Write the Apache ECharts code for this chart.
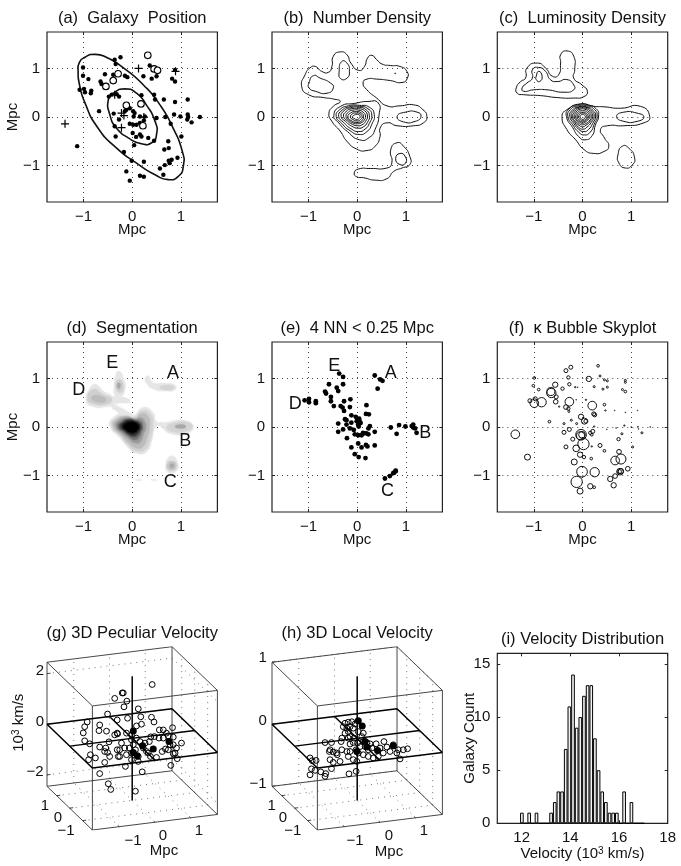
<!DOCTYPE html>
<html>
<head>
<meta charset="utf-8">
<title>Galaxy cluster panels</title>
<script src="https://cdn.jsdelivr.net/npm/echarts@6/dist/echarts.min.js"></script>
<style>
  html, body { margin: 0; padding: 0; background: #fff; }
  #main { width: 681px; height: 866px; }
</style>
</head>
<body>
<div id="main"></div>
<script>
// values, Mpc unless noted
const galaxyDots = [[-.24,1.23],[-.36,1.18],[-.34,1.09],[-1.01,1.02],[-1.01,.85],[-.90,.78],[-.56,.88],[-.65,.73],[-.63,.68],[-.39,.87],[-.15,.85],[-.10,.82],[.23,.84],[.36,1.06],[.40,.79],[.50,.84],[.47,1.01],[.88,.97],[.82,.79],[.88,.73],[-1.08,.56],[-.99,.58],[-.97,.51],[-.84,.54],[-.85,.49],[-.48,.42],[-.42,.46],[-.32,.47],[-.27,.42],[.19,.45],[.45,.46],[.47,.36],[.65,.36],[.88,.31],[1.14,.36],[-.68,.12],[-.38,.07],[-.27,-.05],[-.36,-.19],[-.15,.12],[-.12,.15],[-.05,.18],[.02,.12],[.05,.08],[.03,.01],[.16,.01],[.26,.01],[.50,-.02],[.68,0],[.86,.05],[.99,.01],[1.14,.05],[1.15,0],[1.13,-.05],[1.22,-.11],[1.39,0],[.79,-.14],[-.05,-.14],[.02,-.16],[.09,-.16],[.16,-.12],[.24,-.07],[-.34,-.40],[.01,-.33],[.16,-.36],[.08,-.41],[.19,-.40],[.33,-.43],[.45,-.49],[.74,-.50],[1.01,-.40],[.04,-.58],[.75,-.64],[.66,-.67],[-.17,-.72],[-.01,-.90],[.24,-.92],[.81,-.88],[.77,-.95],[.75,-.90],[.93,-.84],[.67,-.99],[.57,-1.06],[-.12,-1.12],[-.05,-1.31],[.16,-1.21],[.24,-1.23],[.64,-1.19],[-1.13,-.60]];
const brightGalaxies = [[.32,1.27],[.45,.99],[.52,.96],[-.29,.89],[-.39,.75],[-.54,.63],[-.12,.24],[.18,.27],[.22,-.18]];
const plusGalaxies = [[.13,1.0],[.89,.94],[-1.38,-.14],[-.36,.46],[-.22,.08],[-.17,.03],[-.22,-.22],[.24,0]];
const outerEllipse = [[-1.09,1.11],[-.97,1.23],[-.77,1.29],[-.53,1.23],[-.18,1.01],[.23,.66],[.57,.25],[.84,-.23],[1.03,-.71],[1.05,-1.01],[.95,-1.22],[.74,-1.29],[.47,-1.19],[.09,-.95],[-.32,-.64],[-.70,-.23],[-.97,.29],[-1.09,.70],[-1.11,.94]];
const innerEllipse = [[-.49,.36],[-.39,.49],[-.15,.58],[.09,.49],[.29,.25],[.47,-.09],[.50,-.36],[.40,-.53],[.19,-.55],[-.08,-.43],[-.32,-.23],[-.46,.05]];

// (b) number density contours
const numberContours = [
  [[-1.14,.63],[-1.07,.87],[-.97,1.01],[-.86,1.04],[-.73,.94],[-.59,.92],[-.52,1.04],[-.49,1.25],[-.35,1.34],[-.21,1.28],[-.13,1.11],[.03,.96],[.15,1.04],[.21,1.21],[.30,1.27],[.40,1.18],[.51,1.09],[.68,1.06],[.88,1.04],[1.02,.94],[1.03,.80],[.92,.71],[.68,.75],[.40,.78],[.20,.78],[.12,.70],[.20,.56],[.40,.39],[.61,.23],[.88,.23],[1.16,.25],[1.35,.15],[1.43,.01],[1.36,-.12],[1.16,-.18],[.82,-.18],[.61,-.12],[.47,-.23],[.47,-.40],[.37,-.60],[.20,-.69],[-.01,-.66],[-.21,-.50],[-.35,-.29],[-.52,-.09],[-.58,.08],[-.49,.22],[-.35,.32],[-.49,.37],[-.69,.40],[-1.0,.46]],
  [[-.99,.70],[-.90,.85],[-.76,.80],[-.55,.70],[-.49,.60],[-.62,.49],[-.86,.53],[-.99,.60]],
  [[-.37,.94],[-.32,1.14],[-.21,1.11],[-.16,.94],[-.21,.80],[-.34,.79]],
  [[.82,.01],[.99,.10],[1.23,.10],[1.31,.01],[1.19,-.09],[.95,-.10]],
  [[-.06,-1.15],[.03,-1.07],[.27,-1.06],[.61,-1.05],[.71,-.95],[.69,-.67],[.82,-.53],[.95,-.60],[1.08,-.81],[1.08,-.98],[.92,-1.05],[.75,-1.12],[.61,-1.27],[.37,-1.30],[.13,-1.25],[-.01,-1.23]],
  [[.79,-.86],[.88,-.75],[.99,-.82],[.99,-.95],[.88,-.98]],
  [[.77,.90],[.79,.90],[.78,.89]],
  [[-.48,.03],[-.34,.22],[-.05,.28],[.22,.32],[.43,.29],[.45,.05],[.37,-.25],[.25,-.42],[.05,-.47],[-.2,-.30],[-.38,-.12]],
  [[-.43,.01],[-.36,.15],[-.18,.23],[.05,.24],[.25,.2],[.35,.05],[.3,-.15],[.2,-.3],[.04,-.36],[-.15,-.28],[-.32,-.13]],
  [[-.38,.01],[-.31,.14],[-.15,.21],[.05,.22],[.22,.17],[.30,.04],[.25,-.13],[.16,-.25],[.03,-.30],[-.13,-.24],[-.28,-.11]],
  [[-.33,.01],[-.27,.13],[-.13,.19],[.04,.2],[.18,.15],[.25,.03],[.21,-.11],[.13,-.2],[.02,-.23],[-.11,-.19],[-.24,-.09]],
  [[-.28,.01],[-.23,.11],[-.11,.17],[.03,.17],[.15,.13],[.21,.02],[.17,-.09],[.1,-.16],[.01,-.18],[-.1,-.15],[-.2,-.08]],
  [[-.23,.01],[-.18,.1],[-.09,.14],[.03,.14],[.12,.1],[.17,.02],[.14,-.07],[.08,-.12],[0,-.14],[-.09,-.12],[-.17,-.07]],
  [[-.19,0],[-.14,.08],[-.02,.11],[.09,.08],[.13,.01],[.1,-.07],[0,-.11],[-.13,-.07]],
  [[-.14,0],[-.09,.07],[-.02,.08],[.05,.07],[.10,.01],[.07,-.05],[0,-.08],[-.09,-.05]],
  [[-.10,0],[-.06,.04],[-.02,.05],[.03,.05],[.06,.01],[.04,-.03],[-.01,-.05],[-.06,-.03]]
];

// (c) luminosity density contours
const luminosityContours = [
  [[-1.36,.60],[-1.27,.73],[-1.17,.80],[-1.14,1.01],[-.93,1.11],[-.76,1.01],[-.62,.84],[-.49,.87],[-.45,1.11],[-.45,1.28],[-.32,1.36],[-.18,1.25],[-.16,.97],[-.18,.80],[-.01,.66],[.10,.53],[.03,.42],[-.18,.39],[-.52,.40],[-.86,.44],[-1.21,.46],[-1.34,.49]],
  [[-1.24,.60],[-1.14,.70],[-1.03,.80],[-1.03,.97],[-.90,1.02],[-.76,.94],[-.66,.77],[-.52,.73],[-.32,.77],[-.18,.66],[-.18,.56],[-.38,.51],[-.73,.56],[-1.0,.56],[-1.21,.53]],
  [[-.95,.84],[-.90,.94],[-.83,.84],[-.88,.73],[-.95,.77]],
  [[-.42,.01],[-.32,.15],[-.04,.27],[.23,.22],[.44,.21],[.78,.18],[1.19,.22],[1.38,.01],[1.26,-.12],[.85,-.18],[.51,-.18],[.37,-.26],[.45,-.43],[.54,-.60],[.44,-.71],[.23,-.75],[.03,-.67],[-.14,-.47],[-.32,-.26]],
  [[.70,.01],[.85,.10],[1.12,.08],[1.26,0],[1.12,-.09],[.85,-.09]],
  [[.73,-.77],[.82,-.60],[.95,-.64],[1.07,-.84],[1.02,-.99],[.88,-1.05],[.75,-.95]],
  [[-.33,.01],[-.28,.16],[-.1,.25],[.1,.25],[.28,.17],[.33,.02],[.26,-.18],[.2,-.38],[.05,-.47],[-.08,-.4],[-.2,-.22]],
  [[-.30,.01],[-.25,.15],[-.09,.23],[.09,.23],[.25,.15],[.30,.02],[.24,-.15],[.16,-.31],[.04,-.37],[-.08,-.31],[-.2,-.16]],
  [[-.26,.01],[-.22,.13],[-.08,.21],[.08,.21],[.22,.13],[.27,.02],[.21,-.13],[.12,-.26],[.03,-.30],[-.08,-.25],[-.18,-.13]],
  [[-.23,.01],[-.19,.12],[-.07,.2],[.07,.2],[.19,.12],[.24,.01],[.18,-.11],[.09,-.21],[.01,-.25],[-.08,-.21],[-.16,-.11]],
  [[-.2,0],[-.16,.11],[-.06,.18],[.06,.18],[.16,.11],[.21,.01],[.15,-.1],[.07,-.17],[0,-.2],[-.07,-.17],[-.14,-.1]],
  [[-.17,0],[-.13,.1],[-.05,.16],[.05,.16],[.13,.1],[.18,.01],[.13,-.09],[.06,-.14],[0,-.16],[-.06,-.14],[-.12,-.08]],
  [[-.14,0],[-.1,.09],[-.04,.13],[.04,.13],[.1,.09],[.15,.01],[.1,-.07],[.05,-.11],[0,-.13],[-.05,-.11],[-.1,-.07]],
  [[-.11,0],[-.08,.07],[0,.1],[.08,.07],[.12,0],[.08,-.06],[0,-.1],[-.08,-.06]],
  [[-.08,0],[-.05,.06],[0,.08],[.06,.06],[.09,0],[.06,-.05],[0,-.07],[-.05,-.05]],
  [[-.05,0],[-.03,.04],[0,.05],[.04,.04],[.06,0],[.04,-.03],[0,-.05],[-.03,-.03]]
];

// (d) segmentation image, light to dark
const segmentShades = ['#e6e6e6','#e6e6e6','#e6e6e6','#e6e6e6','#e6e6e6','#e6e6e6','#e6e6e6','#eeeeee','#eeeeee','#d0d0d0','#bcbcbc','#d0d0d0','#a8a8a8','#d4d4d4','#c8c8c8','#aaaaaa','#d4d4d4','#a8a8a8','#d4d4d4','#bcbcbc','#9c9c9c','#747474','#484848','#282828','#101010','#000000','#000000'];
const segmentPatches = [
  [[-.46,.02],[-.39,.19],[-.18,.26],[.02,.23],[.23,.40],[.43,.29],[.49,.12],[.64,.09],[.77,.11],[1.05,.14],[1.25,.02],[1.12,-.13],[.77,-.13],[.57,.02],[.47,-.01],[.40,-.29],[.29,-.51],[.09,-.54],[-.08,-.42],[-.25,-.22]],
  [[-.39,.47],[-.25,.40],[-.12,.33],[.02,.23],[-.18,.19],[-.32,.33],[-.42,.40]],
  [[-.40,.62],[-.08,.58],[-.05,.51],[-.22,.50],[-.36,.50]],
  [[-.95,.57],[-.88,.77],[-.84,.84],[-.77,.88],[-.68,.83],[-.60,.74],[-.40,.62],[-.36,.50],[-.53,.42],[-.84,.43]],
  [[-.37,.81],[-.34,1.05],[-.27,1.15],[-.17,.98],[-.15,.77],[-.25,.62],[-.36,.67]],
  [[.27,1.01],[.33,1.05],[.43,.91],[.64,.90],[.88,.86],[.88,.77],[.71,.74],[.43,.79],[.29,.91]],
  [[.69,-.80],[.74,-.64],[.84,-.60],[.93,-.73],[.93,-.87],[.81,-.95],[.71,-.90]],
  [[.06,-1.08],[.13,-1.07],[.21,-1.09],[.13,-1.11]],
  [[.38,-1.08],[.45,-1.07],[.51,-1.09],[.45,-1.11]],
  [[-.92,.58],[-.80,.77],[-.60,.67],[-.42,.57],[-.53,.47],[-.80,.48]],
  [[-.84,.60],[-.70,.65],[-.54,.55],[-.70,.51]],
  [[-.34,.84],[-.27,.98],[-.18,.84],[-.25,.71]],
  [[-.31,.86],[-.27,.91],[-.24,.86],[-.27,.79]],
  [[.57,.82],[.77,.86],[.86,.81],[.71,.76]],
  [[.71,-.80],[.81,-.70],[.91,-.80],[.81,-.90]],
  [[.77,-.80],[.82,-.75],[.86,-.80],[.82,-.85]],
  [[.71,.01],[.91,.09],[1.15,.09],[1.24,.01],[1.12,-.08],[.84,-.10]],
  [[.88,.01],[1.01,.05],[1.10,.01],[1.01,-.03]],
  [[-.42,.02],[-.34,.18],[-.15,.23],[.04,.20],[.22,.34],[.39,.25],[.43,.08],[.37,-.25],[.26,-.47],[.09,-.50],[-.08,-.38],[-.24,-.19]],
  [[-.39,.02],[-.31,.16],[-.12,.22],[.06,.18],[.2,.28],[.33,.2],[.36,.04],[.31,-.2],[.22,-.4],[.08,-.43],[-.07,-.33],[-.22,-.17]],
  [[-.34,.02],[-.27,.14],[-.1,.19],[.06,.16],[.17,.19],[.25,.12],[.28,0],[.23,-.15],[.16,-.31],[.06,-.33],[-.06,-.25],[-.2,-.14]],
  [[-.3,.01],[-.22,.12],[-.08,.17],[.06,.14],[.16,.13],[.22,.03],[.19,-.11],[.12,-.23],[.04,-.26],[-.06,-.2],[-.18,-.11]],
  [[-.26,.01],[-.18,.11],[-.07,.15],[.05,.13],[.14,.09],[.19,.01],[.16,-.09],[.09,-.18],[.02,-.2],[-.07,-.16],[-.16,-.09]],
  [[-.22,.01],[-.15,.1],[-.05,.13],[.05,.11],[.13,.07],[.16,0],[.13,-.07],[.07,-.14],[.01,-.16],[-.07,-.13],[-.14,-.07]],
  [[-.19,.01],[-.12,.09],[-.04,.11],[.05,.09],[.11,.06],[.14,0],[.11,-.06],[.05,-.11],[0,-.13],[-.07,-.1],[-.13,-.06]],
  [[-.16,0],[-.1,.07],[-.02,.09],[.05,.08],[.1,.04],[.12,-.01],[.09,-.06],[.03,-.1],[-.04,-.1],[-.11,-.06]],
  [[-.13,0],[-.08,.06],[-.01,.08],[.06,.05],[.09,-.01],[.06,-.06],[0,-.08],[-.08,-.06]]
];
const segmentLetters = [[-.41,1.32,'E'],[.84,1.11,'A'],[-1.10,.77,'D'],[1.09,-.29,'B'],[.78,-1.14,'C']];

// (e) galaxies with 4 neighbours inside 0.25 Mpc
const nearNeighbours = [[-.37,1.10],[-.29,1.03],[.36,1.06],[.47,.98],[.52,.95],[-.29,.88],[-.58,.88],[-.42,.81],[-.39,.74],[.42,.79],[-.66,.73],[-.64,.69],[-.54,.62],[-.54,.53],[-.14,.57],[-.27,.53],[-1.08,.55],[-.99,.58],[-.99,.51],[-.85,.53],[-.85,.49],[-.48,.43],[-.34,.43],[-.30,.40],[-.27,.33],[-.15,.41],[.19,.45],[.18,.27],[.24,.26],[-.12,.24],[-.03,.21],[.04,.17],[-.25,.16],[-.22,.14],[.05,.12],[-.01,.12],[.07,.08],[.02,.05],[.03,.01],[-.12,.09],[-.22,.05],[-.39,.07],[-.29,-.05],[-.39,-.10],[-.15,-.03],[-.07,-.06],[.26,.02],[.23,-.03],[.36,-.10],[-.21,-.23],[-.05,-.15],[.02,-.17],[.09,-.17],[.12,-.12],[.19,-.13],[.23,-.15],[.14,-.13],[-.12,-.42],[.02,-.34],[.09,-.42],[.18,-.37],[.21,-.40],[.36,-.38],[-.05,-.56],[.03,-.62],[.17,-.64],[.69,-.01],[.86,.04],[.81,-.14],[.99,.01],[1.12,.02],[1.15,.05],[1.15,-.01],[1.19,-.03],[1.22,-.12],[.57,-1.06],[.67,-1.01],[.74,-.95],[.79,-.91],[.76,-.94],[.79,-.90]];
const nearLetters = [[-.47,1.25,'E'],[.69,1.12,'A'],[-1.27,.48,'D'],[1.40,-.13,'B'],[.62,-1.32,'C']];

// (f) x, y, kappa
const kappaBubbles = [[.32,1.26,.4],[-.24,1.23,.6],[-.34,1.16,.6],[-.29,1.02,.5],[-.99,1.01,.4],[.13,.99,.8],[.36,1.05,.3],[.45,.97,.3],[.51,.95,.3],[.88,.96,.3],[.88,.92,.3],[-.56,.87,.8],[-.27,.88,.5],[-1.01,.85,.4],[-.90,.77,.4],[-.41,.79,.5],[-.15,.82,.2],[-.10,.82,.1],[.24,.83,.3],[.42,.78,.3],[.51,.82,.3],[.82,.77,.3],[.88,.73,.4],[-.64,.70,1.4],[-.65,.73,1.2],[-1.08,.54,.6],[-.97,.58,.6],[-.99,.49,1.3],[-.84,.51,1.4],[-.54,.62,.6],[-.55,.52,.7],[-.27,.52,1.3],[-.34,.41,.7],[-.29,.38,.5],[-.28,.32,.3],[.20,.44,1.3],[.45,.46,.4],[.47,.34,.2],[.23,.27,.6],[.25,.25,.6],[-.68,.11,.4],[-.03,.21,.8],[.04,.12,.9],[.07,.12,.6],[-.23,.14,.3],[-.38,.07,.3],[-.12,.07,.3],[-.27,-.05,.6],[-.38,-.11,.6],[-.03,-.16,1.6],[-.04,-.18,1.2],[-.01,-.16,1.0],[-.20,-.25,.6],[.02,-.35,1.7],[-.34,-.41,.6],[-.13,-.44,1.0],[.36,-.38,.6],[.45,-.49,.4],[.74,-.25,.5],[.81,-.14,.3],[1.03,-.41,.3],[1.22,-.12,.3],[1.14,.01,.1],[1.15,-.04,.1],[.86,.03,.2],[.75,-.51,.7],[.67,-.69,1.3],[.79,-.66,1.5],[-.17,-.72,.9],[-.05,-.57,.8],[.03,-.62,.5],[.18,-.65,.4],[.93,-.86,.7],[.77,-.92,1.0],[.76,-.92,.6],[.79,-.91,.8],[.67,-1.01,.7],[.57,-1.07,.8],[.64,-1.20,.8],[-.01,-.92,1.6],[.25,-.93,1.4],[-.12,-1.13,1.7],[.16,-1.22,.8],[.24,-1.24,.4],[-.05,-1.32,.9],[-1.13,-.62,.9],[-1.38,-.15,1.3],[-.13,.56,.1],[.07,.56,.2],[.21,-.09,.6],[.24,.01,.2],[.16,-.12,.5],[.19,-.16,.4],[.50,-.05,.1],[.69,-.02,.1],[1.0,0,.1],[1.39,0,.1],[1.13,.34,.1],[.88,.30,.1],[.66,.34,.1],[-.48,.42,.2],[.19,-.40,.2]];

// (g), (h) galaxies as they sit on the projected plane of the box
const peculiarProjected = [[.56,2.17],[-.28,1.83],[-.25,1.83],[-.49,1.61],[-.15,1.50],[-.23,1.27],[.17,1.19],[-.69,.98],[-.42,.74],[-.13,.81],[.24,.87],[.54,.85],[.61,.66],[-1.26,.66],[-.91,.54],[-1.33,.47],[-1.37,.22],[-.72,.29],[-.93,.31],[-.42,.21],[-.41,.18],[.26,.57],[.12,.50],[.76,.34],[.87,.34],[1.13,.43],[.96,.21],[1.01,.10],[.62,.07],[.52,.06],[.75,.01],[1.15,.05],[1.38,-.19],[-1.33,-.10],[-1.19,-.22],[-.65,-.14],[-.91,-.35],[-.74,-.39],[-.77,-.53],[-.69,-.57],[-1.17,-.66],[-1.03,-.79],[-1.22,-.86],[-.63,-.73],[-.35,-.46],[-.39,-.73],[-.21,-.39],[-.16,-.66],[-.02,-.86],[.17,-.93],[-.19,-1.13],[-.77,-.97],[-.91,-1.42],[.28,-1.35],[1.08,-1.09],[1.26,-.82],[1.15,-.62],[1.01,-.46],[.84,-.53],[.93,-.43],[.68,-.77],[.40,-.53],[.51,-.73],[-.67,-1.83],[-.60,-2.06],[.09,-2.13],[-.02,.14],[-.02,-.06],[.03,-.26],[.12,.01],[.22,-.13],[.36,-.19],[.48,-.13],[.31,-.39],[.45,-.59],[.17,-.73],[-.02,-.59],[-.08,-.39],[.09,-.46],[-.35,-.73],[-.42,-.46],[-.49,.14],[1.15,-.26],[1.24,-.39],[1.06,-.26],[1.20,-.59],[.87,.01],[-.16,.21],[-.30,-.19]];
const peculiarCrowded = [[.03,.30],[.03,-.57],[.14,-.70],[.29,-.30],[.59,-.43],[1.03,-.13]];
const localProjected = [[-.34,.61],[-.25,.65],[-.15,.67],[-.06,.58],[-.39,.47],[-.29,.41],[-.20,.47],[-.11,.41],[-.34,.21],[-.25,.27],[-.20,.07],[-.09,.01],[-.43,.01],[-.25,.01],[-.90,-.17],[-.72,-.17],[-.45,-.13],[-.76,-.46],[-.67,-.55],[-.78,-.53],[-.58,-.59],[-.43,-.46],[-.29,-.53],[-.20,-.53],[-.76,-.86],[-.67,-.97],[-.48,-.93],[-.56,-.66],[-.25,-.73],[-.11,-.86],[.03,-.59],[-.03,-.46],[.08,-.33],[.17,-.13],[.27,-.17],[.22,-.33],[.36,-.22],[.53,-.22],[.75,-.13],[.64,-.39],[.83,-.35],[1.01,-.26],[1.15,-.46],[1.29,-.46],[1.41,-.42],[1.11,-.59],[1.20,-.83],[.92,-.53],[.73,-.59],[.59,-.73],[.45,-.79],[.31,-.73],[.17,-.66],[-.01,-.93],[-.03,-1.33],[-.23,-1.43],[-1.32,-.79],[-1.26,-.90],[-1.15,-.89],[-1.28,-1.23],[-1.32,-1.47],[-1.18,-1.29],[-1.02,-1.35],[-.90,-1.53],[-.88,-1.42],[-.72,-1.22],[.31,-.46],[.41,-.39],[-.11,-.17],[-.20,-.23],[.01,-.19],[.13,.07],[.17,.21],[.03,.27]];
const localCrowded = [[.03,.71],[.14,.50],[.27,-.35],[.57,-.49],[1.01,-.30],[.22,-.13],[-.01,-.53]];

// (i) histogram, 10^3 km/s
const velocityBins = [12.01,12.16,12.31,12.46,12.61,12.76,12.91,13.06,13.21,13.36,13.51,13.66,13.81,13.96,14.11,14.26,14.41,14.56,14.71,14.86,15.01,15.16,15.31,15.46,15.61,15.76,15.91,16.06,16.21,16.36,16.51,16.66,16.81,16.96];
const velocityCounts = [1,0,1,0,1,0,0,0,1,2,3,3,7,11,14,9,10,12,13,13,8,5,3,2,1,1,1,0,3,0,2,0,0,0];

const skyTicks = [-1, 0, 1];
const velocityTicks = [12, 14, 16, 18];
const countTicks = [0, 5, 10, 15];
const skyRange = 1.75;

const FONT = '"Liberation Sans", Arial, Helvetica, sans-serif';
const cols = [47, 272, 497.3];
const PANEL_W = 170.4;

const minus = v => (v < 0 ? '\u2212' + (-v) : String(v));

const grids = [];
const xAxes = [];
const yAxes = [];
const mirrorX = [];
const mirrorY = [];
const series = [];
const titles = [];

const titleOf = (text, cx, top) => ({
  text, left: cx, top, padding: 0, textAlign: 'center',
  textStyle: { fontFamily: FONT, fontSize: 16.5, fontWeight: 'normal', color: '#111' }
});

const baseAxis = (gridIndex, min, max, ticks, dotted) => ({
  type: 'value',
  gridIndex,
  min,
  max,
  axisLine: { show: false, onZero: false },
  axisTick: { show: true, inside: true, length: 3, customValues: ticks, lineStyle: { color: '#222' } },
  axisLabel: { show: true, customValues: ticks, formatter: minus, fontFamily: FONT, fontSize: 15, color: '#111', margin: 7 },
  splitLine: { show: dotted, lineStyle: { color: '#444', width: 1, type: [1, 4] } }
});

// ticks on the top and right of the frame
const mirrorOf = (gridIndex, min, max, ticks, position) => ({
  type: 'value', gridIndex, min, max, position,
  axisLine: { show: false, onZero: false },
  axisTick: { show: true, inside: true, length: 3, customValues: ticks, lineStyle: { color: '#222' } },
  axisLabel: { show: false },
  splitLine: { show: false }
});

function addSkyPanel(index, left, top, title, showY) {
  grids.push({ left, top, width: PANEL_W, height: 170, show: true, borderColor: '#222', borderWidth: 1.2, backgroundColor: 'transparent' });
  xAxes.push(Object.assign(baseAxis(index, -skyRange, skyRange, skyTicks, true), {
    name: 'Mpc', nameLocation: 'middle', nameGap: 20, nameMoveOverlap: false,
    nameTextStyle: { fontFamily: FONT, fontSize: 15, color: '#111' }
  }));
  yAxes.push(Object.assign(baseAxis(index, -skyRange, skyRange, skyTicks, true), showY ? {
    name: 'Mpc', nameLocation: 'middle', nameGap: 27, nameMoveOverlap: false,
    nameTextStyle: { fontFamily: FONT, fontSize: 15, color: '#111' }
  } : {}));
  mirrorX.push(mirrorOf(index, -skyRange, skyRange, skyTicks, 'top'));
  mirrorY.push(mirrorOf(index, -skyRange, skyRange, skyTicks, 'right'));
  titles.push(titleOf(title, left + PANEL_W / 2, top - 22));
}

addSkyPanel(0, cols[0], 32, '(a)  Galaxy  Position', true);
addSkyPanel(1, cols[1], 32, '(b)  Number Density', false);
addSkyPanel(2, cols[2], 32, '(c)  Luminosity Density', false);
addSkyPanel(3, cols[0], 342, '(d)  Segmentation', true);
addSkyPanel(4, cols[1], 342, '(e)  4 NN < 0.25 Mpc', false);
addSkyPanel(5, cols[2], 342, '(f)  \u03ba Bubble Skyplot', false);

const scatterOn = (g, data, extra) => Object.assign({
  type: 'scatter', xAxisIndex: g, yAxisIndex: g, data, silent: true, animation: false
}, extra);

// closed smooth curves, fill or stroke decided by styleOf
const patchSeries = (g, list, styleOf) => ({
  type: 'custom', xAxisIndex: g, yAxisIndex: g, silent: true, animation: false, clip: true,
  data: list.map((pts, i) => [pts[0][0], pts[0][1], i]),
  encode: { x: 0, y: 1 },
  renderItem: (params, api) => {
    const i = api.value(2);
    return { type: 'polygon', shape: { points: list[i].map(p => api.coord(p)), smooth: 0.6 }, style: styleOf(i) };
  }
});
const strokeStyle = w => () => ({ fill: 'none', stroke: '#111', lineWidth: w });

const letterSeries = (g, data) => scatterOn(g, data, {
  symbolSize: 1, itemStyle: { color: 'transparent', opacity: 1 },
  label: { show: true, position: 'inside', formatter: p => p.data[2], fontFamily: FONT, fontSize: 18, color: '#111' }
});

// (a)
series.push(patchSeries(0, [outerEllipse, innerEllipse], strokeStyle(1.6)));
series.push(scatterOn(0, galaxyDots, { symbolSize: 4.4, itemStyle: { color: '#000', opacity: 1 } }));
series.push(scatterOn(0, plusGalaxies, { symbol: 'path://M5 0V10M0 5H10', symbolSize: 8,
  itemStyle: { color: 'transparent', borderColor: '#000', borderWidth: 1.2, opacity: 1 } }));
series.push(scatterOn(0, brightGalaxies, { symbolSize: 6.6,
  itemStyle: { color: '#fff', borderColor: '#000', borderWidth: 1.1, opacity: 1 } }));

// (b), (c)
series.push(patchSeries(1, numberContours, strokeStyle(1)));
series.push(patchSeries(2, luminosityContours, strokeStyle(1)));

// (d)
series.push(patchSeries(3, segmentPatches, i => ({ fill: segmentShades[i], stroke: null, shadowBlur: 2, shadowColor: segmentShades[i] })));
series.push(letterSeries(3, segmentLetters));

// (e)
series.push(scatterOn(4, nearNeighbours, { symbolSize: 4.8, itemStyle: { color: '#000', opacity: 1 } }));
series.push(letterSeries(4, nearLetters));

// (f)
series.push(scatterOn(5, kappaBubbles, {
  symbolSize: v => v[2] * 6.67,
  itemStyle: { color: 'transparent', borderColor: '#111', borderWidth: 1, opacity: 1 }
}));

// (g), (h) box with a linear view: x to the right, y back to the left, z up
const BOX = 1.75;
const project = (x, y, z, zMax) => [x - 0.363 * y, 2.5 * z / zMax + 0.179 * x + 0.503 * y];
const uMax = BOX * 1.363;
const vMax = 2.5 + BOX * 0.682;

function addBoxPanel(index, left, top, title, zMax, zTicks, points, crowded) {
  const P = (x, y, z) => project(x, y, z, zMax);
  const segs = list => {
    const out = [];
    list.forEach(s => out.push(P(...s[0]), P(...s[1]), ['-', '-']));
    return out;
  };
  const lineOn = (list, style) => series.push({
    type: 'line', xAxisIndex: index, yAxisIndex: index, data: segs(list), showSymbol: false,
    silent: true, connectNulls: false, lineStyle: style, z: 2
  });
  const B = BOX;
  const Z = zMax;
  grids.push({ left, top, width: PANEL_W, height: 183.3, show: false });
  xAxes.push({ type: 'value', gridIndex: index, min: -uMax, max: uMax, show: false });
  yAxes.push({ type: 'value', gridIndex: index, min: -vMax, max: vMax, show: false });
  titles.push(titleOf(title, left + PANEL_W / 2, top - 22));

  const dotted = [];
  skyTicks.forEach(t => {
    dotted.push([[t, -B, -Z], [t, B, -Z]], [[t, B, -Z], [t, B, Z]]);
    dotted.push([[-B, t, -Z], [B, t, -Z]], [[B, t, -Z], [B, t, Z]]);
  });
  zTicks.forEach(t => dotted.push([[-B, B, t], [B, B, t]], [[B, B, t], [B, -B, t]]));
  lineOn(dotted, { color: '#777', width: 1, type: [1, 5] });

  const edges = [
    [[-B, -B, Z], [B, -B, Z]], [[B, -B, Z], [B, B, Z]], [[B, B, Z], [-B, B, Z]], [[-B, B, Z], [-B, -B, Z]],
    [[-B, -B, -Z], [B, -B, -Z]], [[B, -B, -Z], [B, B, -Z]], [[B, B, -Z], [-B, B, -Z]], [[-B, B, -Z], [-B, -B, -Z]],
    [[-B, -B, -Z], [-B, -B, Z]], [[B, -B, -Z], [B, -B, Z]], [[B, B, -Z], [B, B, Z]], [[-B, B, -Z], [-B, B, Z]]
  ];
  skyTicks.forEach(t => {
    edges.push([[t, -B, -Z], [t, -B + 0.1, -Z]], [[-B, t, -Z], [-B + 0.1, t, -Z]]);
  });
  zTicks.forEach(t => edges.push([[-B, B, t], [-B + 0.1, B, t]]));
  lineOn(edges, { color: '#333', width: 0.9 });

  lineOn([
    [[-B, -B, 0], [B, -B, 0]], [[B, -B, 0], [B, B, 0]], [[B, B, 0], [-B, B, 0]], [[-B, B, 0], [-B, -B, 0]],
    [[-B, 0, 0], [B, 0, 0]], [[0, -B, 0], [0, B, 0]], [[0, 0, -Z], [0, 0, Z]]
  ], { color: '#000', width: 1.5 });

  series.push(scatterOn(index, points, { symbolSize: 5.8, z: 3,
    itemStyle: { color: 'transparent', borderColor: '#000', borderWidth: 1, opacity: 1 } }));
  series.push(scatterOn(index, crowded, { symbolSize: 7, z: 3, itemStyle: { color: '#000', opacity: 1 } }));
}

addBoxPanel(6, cols[0], 646.7, '(g) 3D Peculiar Velocity', 2.45, [-2, 0, 2], peculiarProjected, peculiarCrowded);
addBoxPanel(7, cols[1], 646.7, '(h) 3D Local Velocity', 1, [-1, 0, 1], localProjected, localCrowded);

// (i)
grids.push({ left: cols[2], top: 653.3, width: PANEL_W, height: 170, show: true, borderColor: '#222', borderWidth: 1.2, backgroundColor: 'transparent' });
xAxes.push(Object.assign(baseAxis(8, 11, 18, velocityTicks, false), {
  name: 'Velocity (10{sup|3} km/s)', nameLocation: 'middle', nameGap: 23, nameMoveOverlap: false,
  nameTextStyle: { fontFamily: FONT, fontSize: 15, color: '#111', rich: { sup: { fontFamily: FONT, fontSize: 10, color: '#111', verticalAlign: 'top', padding: [0, 0, 6, 0] } } }
}));
yAxes.push(Object.assign(baseAxis(8, 0, 16, countTicks, false), {
  name: 'Galaxy Count', nameLocation: 'middle', nameGap: 20, nameMoveOverlap: false,
  nameTextStyle: { fontFamily: FONT, fontSize: 15, color: '#111' }
}));
mirrorX.push(mirrorOf(8, 11, 18, velocityTicks, 'top'));
mirrorY.push(mirrorOf(8, 0, 16, countTicks, 'right'));
titles.push(titleOf('(i) Velocity Distribution', cols[2] + PANEL_W / 2, 630.5));
series.push({
  type: 'bar', xAxisIndex: 8, yAxisIndex: 8, silent: true, barWidth: 3.65,
  data: velocityBins.map((b, i) => [b, velocityCounts[i]]),
  itemStyle: { color: '#f2f2f2', borderColor: '#000', borderWidth: 1 }
});

// tick labels of the two boxes, pixel spots
const boxLabels = [
  ['2', 40, 671], ['0', 40, 721.7], ['\u22122', 35, 772],
  ['1', 45, 806], ['0', 58, 818], ['\u22121', 66, 831],
  ['\u22121', 133, 841], ['0', 163, 836], ['1', 199, 831], ['Mpc', 164, 851],
  ['1', 262.7, 657.7], ['0', 262.7, 721], ['\u22121', 258, 784],
  ['1', 271.7, 806], ['0', 283, 818], ['\u22121', 292.7, 831],
  ['\u22121', 355, 841], ['0', 389, 836], ['1', 424, 831], ['Mpc', 389, 852]
];
const graphics = boxLabels.map(l => ({
  type: 'text', x: l[1], y: l[2], silent: true,
  style: { text: l[0], fontFamily: FONT, fontSize: 15, fill: '#111', textAlign: 'center', textVerticalAlign: 'middle' }
}));
graphics.push({
  type: 'text', x: 19, y: 722.7, rotation: Math.PI / 2, silent: true,
  style: { text: '10{sup|3} km/s', fontFamily: FONT, fontSize: 15, fill: '#111', textAlign: 'center', textVerticalAlign: 'middle',
    rich: { sup: { fontFamily: FONT, fontSize: 10, fill: '#111', verticalAlign: 'top', padding: [0, 0, 6, 0] } } }
});

const chart = echarts.init(document.getElementById('main'));
chart.setOption({
  backgroundColor: '#fff',
  animation: false,
  title: titles,
  grid: grids,
  xAxis: xAxes.concat(mirrorX),
  yAxis: yAxes.concat(mirrorY),
  series,
  graphic: graphics
});
</script>
</body>
</html>
